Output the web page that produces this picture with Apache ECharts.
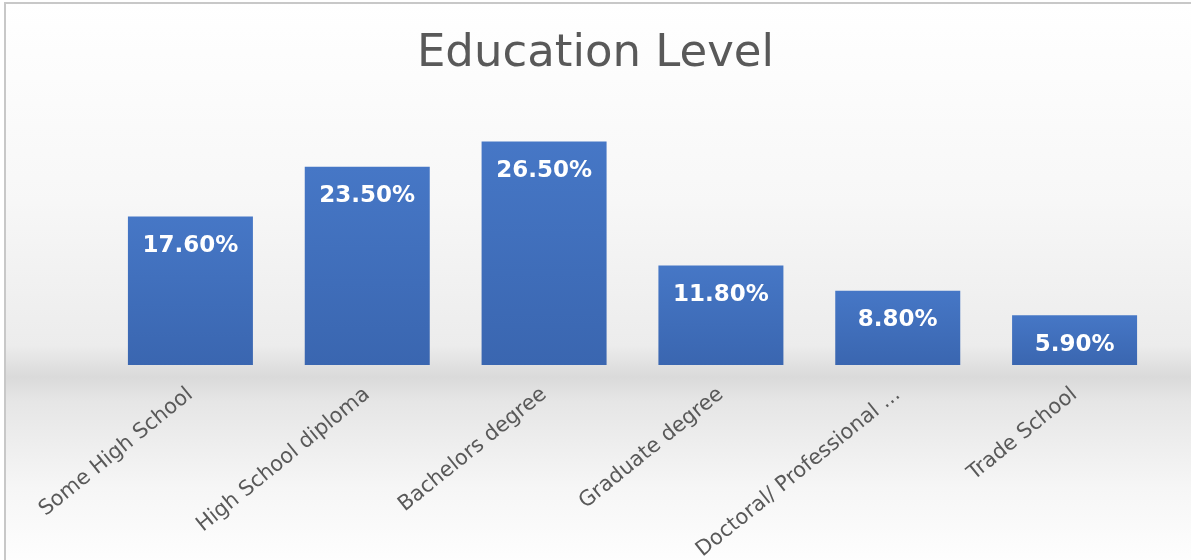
<!DOCTYPE html>
<html>
<head>
<meta charset="utf-8">
<title>Education Level</title>
<script src="https://cdn.jsdelivr.net/npm/echarts@6/dist/echarts.min.js"></script>
<style>
  html, body { margin: 0; padding: 0; background: #fff; }
  #chart { width: 1191px; height: 560px; }
</style>
</head>
<body>
<div id="chart"></div>
<script>
const categories = ['Some High School', 'High School diploma', 'Bachelors degree', 'Graduate degree', 'Doctoral/ Professional ...', 'Trade School']
const shares = [17.6, 23.5, 26.5, 11.8, 8.8, 5.9]

const chart = echarts.init(document.getElementById('chart'))

chart.setOption({
  animation: false,
  graphic: [{
    // backdrop with the grey "floor" band
    type: 'rect',
    z: -10,
    shape: { x: 5, y: 3, width: 1200, height: 570 },
    style: {
      stroke: '#c8c8c8',
      lineWidth: 2,
      fill: {
        type: 'linear', x: 0, y: 0, x2: 0, y2: 1,
        colorStops: [
          { offset: 0, color: '#ffffff' },
          { offset: 0.35, color: '#f7f7f7' },
          { offset: 0.6, color: '#ececec' },
          { offset: 0.655, color: '#dadada' },
          { offset: 0.7, color: '#e6e6e6' },
          { offset: 0.85, color: '#f6f6f6' },
          { offset: 1, color: '#ffffff' }
        ]
      }
    }
  }],
  title: {
    text: 'Education Level',
    left: 'center',
    top: 27,
    textStyle: {
      fontFamily: 'DejaVu Sans',
      fontSize: 45,
      fontWeight: 'normal',
      color: '#595959'
    }
  },
  grid: {
    left: 102,
    right: 28,
    top: 112,
    bottom: 195,
    outerBoundsMode: 'none'
  },
  xAxis: {
    type: 'category',
    data: categories,
    axisLine: { show: false },
    axisTick: { show: false },
    axisLabel: {
      rotate: 39,
      margin: 27,
      fontFamily: 'DejaVu Sans',
      fontSize: 21,
      color: '#595959'
    }
  },
  yAxis: {
    type: 'value',
    min: 0,
    max: 30,
    show: false
  },
  series: [{
    type: 'bar',
    data: shares,
    barWidth: 125,
    itemStyle: {
      color: {
        type: 'linear', x: 0, y: 0, x2: 0, y2: 1,
        colorStops: [
          { offset: 0, color: '#4677c6' },
          { offset: 1, color: '#3a66b0' }
        ]
      }
    },
    label: {
      show: true,
      position: 'insideTop',
      distance: 18,
      formatter: p => p.value.toFixed(2) + '%',
      fontFamily: 'DejaVu Sans',
      fontWeight: 'bold',
      fontSize: 23,
      color: '#ffffff'
    }
  }]
})
</script>
</body>
</html>
